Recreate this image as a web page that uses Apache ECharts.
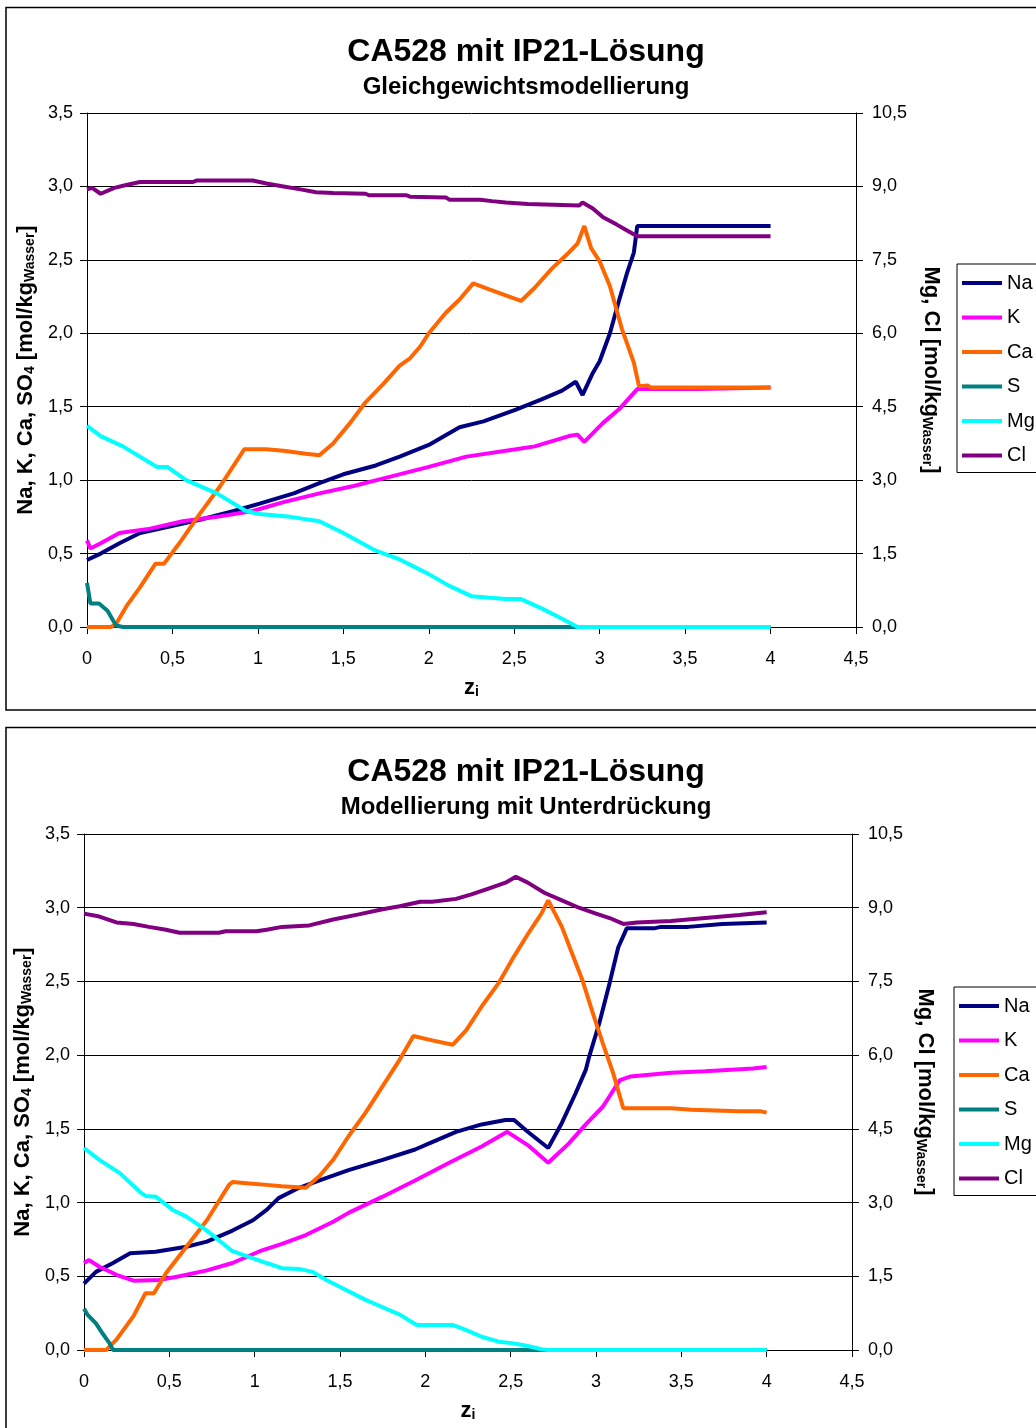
<!DOCTYPE html>
<html>
<head>
<meta charset="utf-8">
<script src="https://cdn.jsdelivr.net/npm/echarts@6/dist/echarts.min.js"></script>
<style>
  html, body { margin: 0; padding: 0; background: #fff; overflow: hidden; }
  #chart { width: 1036px; height: 1428px; }
</style>
</head>
<body>
<div id="chart"></div>
<script>
// Tick labels (German decimal comma)
const zTicks = ['0', '0,5', '1', '1,5', '2', '2,5', '3', '3,5', '4', '4,5'];
const leftTicks = ['0,0', '0,5', '1,0', '1,5', '2,0', '2,5', '3,0', '3,5'];
const rightTicks = ['0,0', '1,5', '3,0', '4,5', '6,0', '7,5', '9,0', '10,5'];

const seriesNames = ['Na', 'K', 'Ca', 'S', 'Mg', 'Cl'];
const seriesColors = ['#000080', '#FF00FF', '#FF6600', '#008080', '#00FFFF', '#800080'];

// Chart 1: Gleichgewichtsmodellierung  [z_i, concentration]
const eqNa = [[0,0.456],[0.08,0.50],[0.19,0.57],[0.31,0.64],[0.47,0.68],[0.66,0.73],[0.86,0.79],[1.01,0.84],[1.21,0.91],[1.36,0.98],[1.5,1.04],[1.69,1.10],[1.83,1.16],[2.0,1.24],[2.18,1.36],[2.32,1.40],[2.51,1.48],[2.66,1.55],[2.78,1.61],[2.86,1.67],[2.9,1.58],[2.96,1.73],[3.0,1.81],[3.06,2.0],[3.11,2.21],[3.16,2.41],[3.2,2.55],[3.22,2.73],[4.0,2.73]];
const eqK = [[0,0.59],[0.02,0.535],[0.08,0.57],[0.19,0.64],[0.37,0.67],[0.56,0.72],[0.76,0.75],[0.97,0.79],[1.15,0.85],[1.36,0.91],[1.56,0.96],[1.73,1.01],[2.0,1.09],[2.22,1.16],[2.51,1.21],[2.62,1.23],[2.82,1.30],[2.87,1.31],[2.91,1.26],[3.02,1.39],[3.12,1.49],[3.22,1.62],[3.58,1.62],[4.0,1.63]];
const eqCa = [[0,0],[0.14,0],[0.17,0.02],[0.23,0.14],[0.31,0.27],[0.40,0.43],[0.45,0.43],[0.54,0.57],[0.66,0.77],[0.78,0.96],[0.92,1.21],[1.05,1.21],[1.15,1.20],[1.28,1.18],[1.36,1.17],[1.44,1.25],[1.54,1.39],[1.63,1.53],[1.73,1.65],[1.83,1.78],[1.89,1.83],[1.95,1.91],[2.0,2.0],[2.1,2.14],[2.18,2.23],[2.26,2.34],[2.35,2.30],[2.47,2.25],[2.54,2.22],[2.62,2.31],[2.72,2.44],[2.82,2.55],[2.87,2.61],[2.91,2.73],[2.95,2.58],[3.0,2.49],[3.06,2.32],[3.13,2.03],[3.2,1.80],[3.23,1.64],[3.28,1.645],[3.3,1.63],[4.0,1.63]];
const eqS = [[0,0.30],[0.02,0.16],[0.07,0.16],[0.12,0.11],[0.17,0.01],[0.21,0],[4.0,0]];
const eqMg = [[0,4.11],[0.08,3.90],[0.21,3.69],[0.41,3.27],[0.47,3.27],[0.58,3.0],[0.76,2.73],[0.93,2.37],[1.01,2.31],[1.19,2.25],[1.36,2.16],[1.5,1.92],[1.69,1.56],[1.83,1.38],[2.0,1.08],[2.12,0.84],[2.25,0.63],[2.45,0.57],[2.54,0.57],[2.66,0.38],[2.78,0.17],[2.87,0],[4.0,0]];
const eqCl = [[0,8.94],[0.03,8.97],[0.08,8.85],[0.16,8.97],[0.23,9.03],[0.31,9.09],[0.62,9.09],[0.64,9.12],[0.97,9.12],[1.05,9.06],[1.15,9.0],[1.25,8.94],[1.34,8.88],[1.44,8.865],[1.63,8.85],[1.65,8.82],[1.87,8.82],[1.89,8.79],[2.1,8.775],[2.12,8.73],[2.3,8.73],[2.37,8.70],[2.45,8.67],[2.58,8.64],[2.88,8.61],[2.9,8.67],[2.96,8.55],[3.02,8.37],[3.1,8.22],[3.16,8.10],[3.22,7.98],[4.0,7.98]];

// Chart 2: Modellierung mit Unterdrückung  [z_i, concentration]
const supNa = [[0,0.45],[0.07,0.53],[0.17,0.59],[0.27,0.656],[0.42,0.667],[0.6,0.70],[0.72,0.735],[0.87,0.81],[0.99,0.88],[1.07,0.95],[1.14,1.03],[1.26,1.10],[1.38,1.15],[1.55,1.22],[1.75,1.29],[1.94,1.36],[2.04,1.41],[2.18,1.48],[2.33,1.53],[2.47,1.56],[2.52,1.56],[2.6,1.48],[2.72,1.37],[2.8,1.54],[2.88,1.74],[2.94,1.90],[2.96,1.99],[3.02,2.22],[3.08,2.49],[3.13,2.73],[3.18,2.86],[3.34,2.86],[3.38,2.87],[3.54,2.87],[3.74,2.89],[4.0,2.90]];
const supK = [[0,0.59],[0.03,0.61],[0.09,0.565],[0.19,0.51],[0.29,0.47],[0.44,0.475],[0.56,0.50],[0.72,0.54],[0.87,0.59],[1.03,0.67],[1.16,0.72],[1.3,0.78],[1.46,0.87],[1.55,0.93],[1.75,1.04],[1.94,1.15],[2.14,1.27],[2.33,1.38],[2.48,1.48],[2.6,1.39],[2.72,1.27],[2.84,1.40],[2.94,1.53],[3.04,1.65],[3.14,1.83],[3.2,1.855],[3.44,1.88],[3.64,1.89],[3.92,1.91],[4.0,1.92]];
const supCa = [[0,0],[0.13,0],[0.19,0.07],[0.29,0.23],[0.36,0.385],[0.41,0.385],[0.48,0.52],[0.6,0.70],[0.72,0.88],[0.85,1.12],[0.87,1.14],[0.97,1.13],[1.07,1.12],[1.16,1.11],[1.3,1.10],[1.38,1.18],[1.46,1.29],[1.55,1.45],[1.65,1.61],[1.75,1.79],[1.85,1.97],[1.93,2.13],[2.04,2.10],[2.16,2.07],[2.24,2.17],[2.33,2.33],[2.43,2.49],[2.52,2.67],[2.6,2.82],[2.68,2.96],[2.72,3.05],[2.8,2.87],[2.86,2.69],[2.92,2.51],[2.98,2.29],[3.04,2.08],[3.1,1.88],[3.16,1.64],[3.44,1.64],[3.56,1.63],[3.84,1.62],[3.96,1.62],[4.0,1.61]];
const supS = [[0,0.28],[0.02,0.24],[0.07,0.18],[0.11,0.11],[0.15,0.045],[0.17,0],[4.0,0]];
const supMg = [[0,4.11],[0.09,3.87],[0.21,3.6],[0.33,3.21],[0.36,3.135],[0.42,3.12],[0.52,2.85],[0.6,2.715],[0.72,2.43],[0.87,2.01],[0.97,1.89],[1.07,1.77],[1.16,1.665],[1.26,1.65],[1.34,1.59],[1.42,1.425],[1.53,1.23],[1.65,1.02],[1.75,0.87],[1.85,0.72],[1.95,0.51],[2.16,0.51],[2.24,0.405],[2.33,0.27],[2.43,0.17],[2.52,0.135],[2.6,0.08],[2.68,0.015],[2.72,0],[4.0,0]];
const supCl = [[0,8.88],[0.09,8.82],[0.19,8.70],[0.29,8.67],[0.38,8.61],[0.48,8.55],[0.56,8.49],[0.79,8.49],[0.83,8.52],[1.01,8.52],[1.07,8.55],[1.16,8.61],[1.32,8.64],[1.46,8.76],[1.61,8.865],[1.75,8.97],[1.85,9.03],[1.97,9.12],[2.04,9.12],[2.18,9.18],[2.27,9.27],[2.37,9.39],[2.47,9.51],[2.53,9.63],[2.6,9.51],[2.7,9.30],[2.8,9.15],[2.9,9.0],[3.0,8.88],[3.08,8.79],[3.16,8.67],[3.24,8.70],[3.44,8.73],[3.64,8.79],[3.84,8.85],[4.0,8.91]];

const FONT = '"Liberation Sans", Arial, sans-serif';

const subStyle = { fontSize: 14, fontWeight: 'bold', fontFamily: FONT, color: '#000', lineHeight: 7, verticalAlign: 'bottom' };
const nameStyle = { fontSize: 22, fontWeight: 'bold', fontFamily: FONT, color: '#000', lineHeight: 22, rich: { s: subStyle } };

function xAxisFor(gridIndex) {
  return {
    type: 'value', gridIndex, min: 0, max: 4.5, interval: 0.5,
    axisLine: { show: true, onZero: false, lineStyle: { color: '#000', width: 1 } },
    axisTick: { show: true, length: 7, lineStyle: { color: '#000' } },
    axisLabel: { fontSize: 18, fontFamily: FONT, color: '#000', margin: 23,
      formatter: v => zTicks[Math.round(v / 0.5)] },
    splitLine: { show: false },
    name: '{z|z}{s|i}', nameLocation: 'middle', nameGap: 50,
    nameTextStyle: { rich: { z: { fontSize: 22, fontWeight: 'bold', fontFamily: FONT, color: '#000', lineHeight: 22 }, s: subStyle } }
  };
}

function leftAxisFor(gridIndex, gap) {
  return {
    type: 'value', gridIndex, position: 'left', min: 0, max: 3.5, interval: 0.5,
    axisLine: { show: true, lineStyle: { color: '#000', width: 1 } },
    axisTick: { show: true, length: 7, lineStyle: { color: '#000' } },
    axisLabel: { fontSize: 18, fontFamily: FONT, color: '#000', margin: 14, padding: [4, 0, 0, 0],
      formatter: v => leftTicks[Math.round(v / 0.5)] },
    splitLine: { show: true, lineStyle: { color: '#000', width: 1 } },
    name: 'Na, K, Ca, SO{s|4} [mol/kg{s|Wasser}]', nameLocation: 'middle', nameRotate: 90, nameGap: gap,
    nameTextStyle: nameStyle
  };
}

function rightAxisFor(gridIndex, gap) {
  return {
    type: 'value', gridIndex, position: 'right', min: 0, max: 10.5, interval: 1.5,
    axisLine: { show: true, lineStyle: { color: '#000', width: 1 } },
    axisTick: { show: true, length: 7, lineStyle: { color: '#000' } },
    axisLabel: { fontSize: 18, fontFamily: FONT, color: '#000', margin: 16, padding: [4, 0, 0, 0],
      formatter: v => rightTicks[Math.round(v / 1.5)] },
    splitLine: { show: false },
    name: 'Mg, Cl [mol/kg{s|Wasser}]', nameLocation: 'middle', nameRotate: -90, nameGap: gap,
    nameTextStyle: nameStyle
  };
}

function lineSeries(name, data, xAxisIndex, yAxisIndex) {
  const color = seriesColors[seriesNames.indexOf(name)];
  return {
    type: 'line', name, data, xAxisIndex, yAxisIndex,
    color, showSymbol: false, symbol: 'none',
    lineStyle: { color, width: 4 },
    animation: false
  };
}

function legendFor(left, top) {
  return {
    data: seriesNames, orient: 'vertical', left, top,
    icon: 'rect', itemWidth: 40, itemHeight: 4, itemGap: 14.5,
    padding: [9, 30, 7, 5],
    borderColor: '#000', borderWidth: 1, backgroundColor: '#fff',
    textStyle: { fontSize: 20, fontFamily: FONT, color: '#000' }
  };
}

function titleFor(text, top, size) {
  return {
    text, left: 526, top, textAlign: 'center', textVerticalAlign: 'top', padding: 0,
    textStyle: { fontSize: size, fontWeight: 'bold', fontFamily: FONT, color: '#000' }
  };
}

const chart = echarts.init(document.getElementById('chart'), null, { renderer: 'canvas' });
chart.setOption({
  backgroundColor: '#fff',
  animation: false,
  title: [
    titleFor('CA528 mit IP21-Lösung', 36, 32),
    titleFor('Gleichgewichtsmodellierung', 75, 24),
    titleFor('CA528 mit IP21-Lösung', 756, 32),
    titleFor('Modellierung mit Unterdrückung', 795, 24)
  ],
  legend: [legendFor(957, 264), legendFor(954, 987)],
  grid: [
    { left: 87, top: 113, width: 769, height: 514 },
    { left: 84, top: 834, width: 768, height: 516 }
  ],
  xAxis: [xAxisFor(0), xAxisFor(1)],
  yAxis: [leftAxisFor(0, 49), rightAxisFor(0, 64), leftAxisFor(1, 47), rightAxisFor(1, 61)],
  graphic: [
    { type: 'rect', silent: true, shape: { x: 6, y: 7.5, width: 1200, height: 702.5 }, style: { fill: 'none', stroke: '#000', lineWidth: 1.5 } },
    { type: 'rect', silent: true, shape: { x: 6, y: 727.5, width: 1200, height: 800 }, style: { fill: 'none', stroke: '#000', lineWidth: 1.5 } }
  ],
  series: [
    lineSeries('Na', eqNa, 0, 0),
    lineSeries('K', eqK, 0, 0),
    lineSeries('Ca', eqCa, 0, 0),
    lineSeries('S', eqS, 0, 0),
    lineSeries('Mg', eqMg, 0, 1),
    lineSeries('Cl', eqCl, 0, 1),
    lineSeries('Na', supNa, 1, 2),
    lineSeries('K', supK, 1, 2),
    lineSeries('Ca', supCa, 1, 2),
    lineSeries('S', supS, 1, 2),
    lineSeries('Mg', supMg, 1, 3),
    lineSeries('Cl', supCl, 1, 3)
  ]
});
</script>
</body>
</html>
